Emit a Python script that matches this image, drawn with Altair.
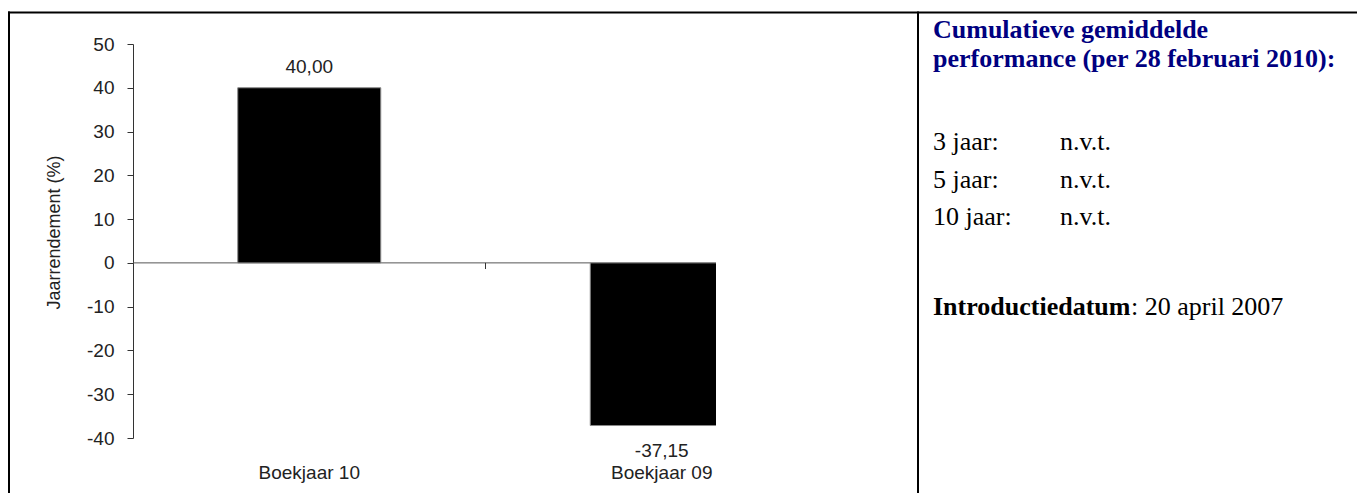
import altair as alt
import pandas as pd

# ---- data ----
categories = ["Boekjaar 10", "Boekjaar 09"]
values = [40.00, -37.15]
value_labels = [f"{v:.2f}".replace(".", ",") for v in values]
y_ticks = [-40, -30, -20, -10, 0, 10, 20, 30, 40, 50]
y_title = "Jaarrendement (%)"

panel_title = ["Cumulatieve gemiddelde", "performance (per 28 februari 2010):"]
period_names = ["3 jaar:", "5 jaar:", "10 jaar:"]
period_values = ["n.v.t.", "n.v.t.", "n.v.t."]
intro_label = "Introductiedatum"
intro_value = ": 20 april 2007"

df = pd.DataFrame({"cat": categories, "value": values, "label": value_labels})

W, H = 583, 394
SANS = "Liberation Sans"
SERIF = "Liberation Serif"
INK = "#222222"

x_enc = alt.X(
    "cat:N",
    sort=categories,
    scale=alt.Scale(domain=categories, range=[0, 705], paddingInner=0, paddingOuter=0),
    axis=alt.Axis(
        title=None, domain=False, ticks=False, labelAngle=0, labelPadding=25,
        labelFont=SANS, labelFontSize=19, labelColor=INK,
    ),
)
y_scale = alt.Scale(domain=[-40, 50], nice=False, zero=False)
y_enc = alt.Y(
    "value:Q",
    scale=y_scale,
    axis=alt.Axis(
        title=y_title, values=y_ticks, grid=False, tickSize=6, labelPadding=13,
        labelExpr="'' + datum.value",
        domainColor="#333333", tickColor="#333333",
        labelFont=SANS, labelFontSize=19, labelColor=INK,
        titleFont=SANS, titleFontSize=18, titleFontWeight="normal", titleColor=INK,
        titleX=-79, titleY=188, titleAlign="center", titleBaseline="middle", titleAngle=-90,
    ),
)

one = pd.DataFrame({"k": [0]})

zero_line = alt.Chart(one).mark_rule(color="#555555", strokeWidth=1).encode(
    y=alt.datum(0, scale=y_scale), x=alt.value(0), x2=alt.value(W)
)

bars = alt.Chart(df).mark_bar(size=143, color="black", stroke="#888888", strokeWidth=1, clip=True).encode(
    x=x_enc, y=y_enc
)

mid_tick = alt.Chart(df).transform_filter(alt.datum.cat == categories[1]).mark_rule(
    color="#333333", strokeWidth=1
).encode(
    x=alt.X("cat:N", sort=categories, bandPosition=0),
    y=alt.datum(0),
    y2=alt.datum(-1.4),
)

pos_labels = alt.Chart(df).transform_filter(alt.datum.value >= 0).mark_text(
    font=SANS, fontSize=19, color=INK, baseline="middle", dy=-21
).encode(x=alt.X("cat:N", sort=categories), y="value:Q", text="label:N")

neg_labels = alt.Chart(df).transform_filter(alt.datum.value < 0).mark_text(
    font=SANS, fontSize=19, color=INK, baseline="middle", dy=25
).encode(x=alt.X("cat:N", sort=categories), y="value:Q", text="label:N")


def txt(s, x, y, color="black", weight="normal", size=26):
    return alt.Chart(pd.DataFrame({"t": [s]})).mark_text(
        font=SERIF, fontSize=size, fontWeight=weight, color=color,
        align="left", baseline="alphabetic",
    ).encode(x=alt.value(x), y=alt.value(y), text="t:N")


panel = [
    txt(panel_title[0], 800, -6, color="#000080", weight="bold"),
    txt(panel_title[1], 800, 23, color="#000080", weight="bold"),
]
for i, (n, v) in enumerate(zip(period_names, period_values)):
    yy = [106, 144, 181][i]
    panel.append(txt(n, 800, yy))
    panel.append(txt(v, 927, yy))
panel.append(txt(intro_label, 800, 271, weight="bold"))
panel.append(txt(intro_value, 998, 271))


def hline(x1, x2, y):
    return alt.Chart(one).mark_rule(color="black", strokeWidth=2).encode(
        x=alt.value(x1), x2=alt.value(x2), y=alt.value(y)
    )


def vline(x, y1, y2):
    return alt.Chart(one).mark_rule(color="black", strokeWidth=2).encode(
        x=alt.value(x), y=alt.value(y1), y2=alt.value(y2)
    )


borders = [
    hline(-125, 1229, -31.5),
    vline(-124, -32.5, 470),
    vline(785, -32.5, 470),
    vline(1228, -32.5, 470),
]

chart = alt.layer(zero_line, bars, mid_tick, pos_labels, neg_labels, *panel, *borders).properties(
    width=W,
    height=H,
    padding={"left": 125, "top": 36, "right": 641, "bottom": 55},
    autosize=alt.AutoSizeParams(type="none"),
    background="white",
).configure_view(strokeWidth=0)

chart.save("out.html", embed_options={"renderer": "svg", "actions": False})
